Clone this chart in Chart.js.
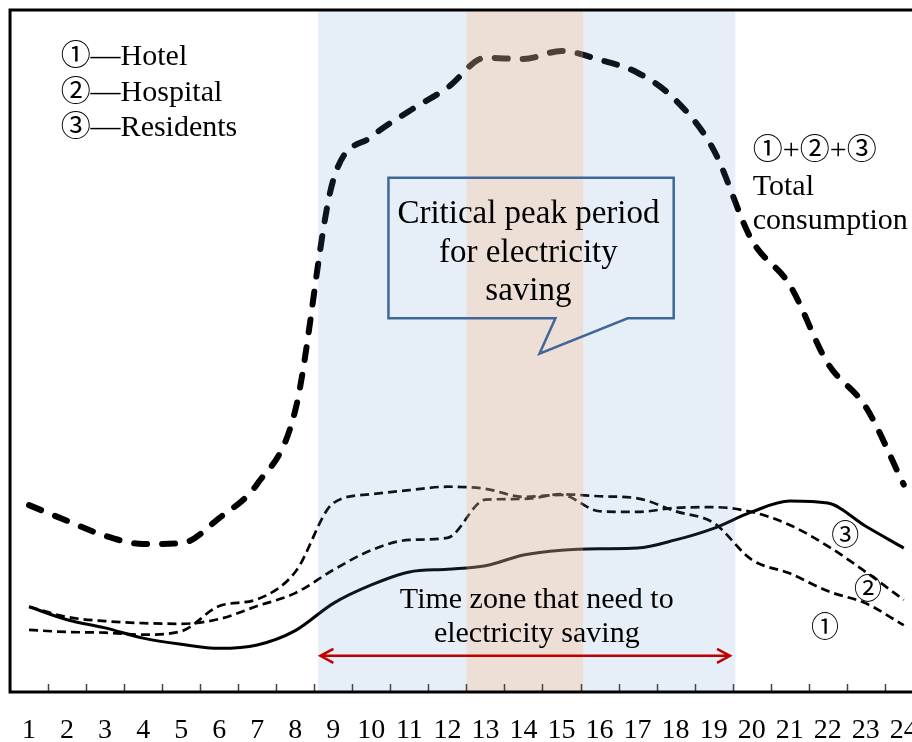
<!DOCTYPE html>
<html>
<head>
<meta charset="utf-8">
<script src="https://cdn.jsdelivr.net/npm/chart.js@4"></script>
<style>
  html, body { margin: 0; padding: 0; overflow: hidden; background: #fff; }
  canvas { display: block; }
</style>
</head>
<body>
<canvas id="loadChart" width="940" height="742"></canvas>
<script>
// hour of day, 1..24
const hours = ['1','2','3','4','5','6','7','8','9','10','11','12','13','14','15','16','17','18','19','20','21','22','23','24']

// relative load (0-100 of the plot height)
const hotel     = [12.5, 11.0, 10.4, 10.1, 10.0, 10.7, 12.6, 14.5, 17.9, 20.8, 22.3, 22.6, 28.2, 28.3, 29.0, 28.7, 28.4, 26.5, 24.8, 19.4, 17.4, 14.8, 13.0, 9.8]
const hospital  = [9.1, 8.8, 8.7, 8.4, 8.9, 12.6, 13.6, 17.6, 27.7, 29.0, 29.6, 30.1, 29.8, 28.6, 28.9, 26.5, 26.4, 27.0, 27.1, 26.4, 24.5, 21.4, 17.6, 13.5]
const residents = [12.5, 10.6, 9.4, 7.9, 7.0, 6.4, 6.9, 9.0, 13.0, 15.7, 17.6, 18.0, 18.5, 20.1, 20.8, 21.0, 21.1, 22.3, 24.0, 26.4, 28.0, 27.7, 24.3, 21.1]
const total     = [27.4, 25.1, 22.9, 21.7, 21.8, 25.5, 30.5, 41.3, 75.1, 81.4, 85.2, 88.6, 93.0, 92.8, 94.0, 92.7, 90.8, 86.8, 79.5, 66.3, 59.7, 48.2, 41.8, 30.4]

// shaded periods, in hours
const savingZone = [8.6, 19.57]
const peakZone = [12.5, 15.57]
const arrowSpan = [8.66, 19.43]

const serif = '"Liberation Serif", "Noto Sans CJK SC", serif'

// draws the bands, frame, ticks and the notes on top of the lines
const notesPlugin = {
    id: 'notes',
    afterDatasetsDraw(chart) {
        const ctx = chart.ctx
        const area = chart.chartArea
        const xs = chart.scales.x
        const ys = chart.scales.y
        const X = h => xs.getPixelForValue(h - 1)
        const Y = v => ys.getPixelForValue(v)

        ctx.save()
        // bands (drawn over the lines, like the original)
        ctx.fillStyle = 'rgba(83,138,207,0.145)'
        ctx.fillRect(X(savingZone[0]), area.top, X(peakZone[0]) - X(savingZone[0]), area.bottom - area.top)
        ctx.fillRect(X(peakZone[1]), area.top, X(savingZone[1]) - X(peakZone[1]), area.bottom - area.top)
        ctx.fillStyle = 'rgba(208,171,145,0.38)'
        ctx.fillRect(X(peakZone[0]), area.top, X(peakZone[1]) - X(peakZone[0]), area.bottom - area.top)

        // inward ticks between hours
        ctx.strokeStyle = '#444'
        ctx.lineWidth = 1.5
        ctx.beginPath()
        for (let i = 1; i < hours.length; i++) {
            const px = Math.round(X(i + 0.5)) + 0.5
            ctx.moveTo(px, area.bottom)
            ctx.lineTo(px, area.bottom - 8)
        }
        ctx.stroke()

        // frame: top, left, bottom
        ctx.strokeStyle = '#000'
        ctx.lineWidth = 3
        ctx.beginPath()
        ctx.moveTo(chart.width, area.top)
        ctx.lineTo(area.left, area.top)
        ctx.lineTo(area.left, area.bottom)
        ctx.lineTo(chart.width, area.bottom)
        ctx.stroke()

        // callout box
        ctx.strokeStyle = '#41679a'
        ctx.lineWidth = 2.5
        ctx.lineJoin = 'miter'
        const bl = X(10.45), br = X(17.95), bt = Y(75.4), bb = Y(54.8)
        ctx.beginPath()
        ctx.moveTo(bl, bt)
        ctx.lineTo(br, bt)
        ctx.lineTo(br, bb)
        ctx.lineTo(X(16.74), bb)
        ctx.lineTo(X(14.42), Y(49.6))
        ctx.lineTo(X(14.84), bb)
        ctx.lineTo(bl, bb)
        ctx.closePath()
        ctx.stroke()

        ctx.fillStyle = '#000'
        ctx.textBaseline = 'alphabetic'
        ctx.textAlign = 'center'
        ctx.font = '33px ' + serif
        ctx.fillText('Critical peak period', X(14.13), Y(68.8))
        ctx.fillText('for electricity', X(14.13), Y(63.1))
        ctx.fillText('saving', X(14.13), Y(57.5))

        ctx.font = '30px ' + serif
        ctx.fillText('Time zone that need to', X(14.35), Y(12.3))
        ctx.fillText('electricity saving', X(14.35), Y(7.3))

        // legend and total label
        ctx.textAlign = 'left'
        ctx.fillText('\u2460\u2014Hotel', X(1.83), Y(91.9))
        ctx.fillText('\u2461\u2014Hospital', X(1.83), Y(86.7))
        ctx.fillText('\u2462\u2014Residents', X(1.83), Y(81.5))
        ctx.fillText('\u2460+\u2461+\u2462', X(20.03), Y(78.2))
        ctx.fillText('Total', X(20.03), Y(72.9))
        ctx.fillText('consumption', X(20.03), Y(67.9))

        // curve markers
        ctx.textAlign = 'center'
        ctx.textBaseline = 'middle'
        ctx.font = '28px ' + serif
        ctx.fillText('\u2462', X(22.46), Y(22.7))
        ctx.fillText('\u2461', X(23.06), Y(14.7))
        ctx.fillText('\u2460', X(21.93), Y(9.1))

        // red double arrow
        const ay = Y(5.3), a0 = X(arrowSpan[0]), a1 = X(arrowSpan[1])
        ctx.strokeStyle = '#c00000'
        ctx.lineWidth = 2.5
        ctx.lineJoin = 'miter'
        ctx.beginPath()
        ctx.moveTo(a0, ay)
        ctx.lineTo(a1, ay)
        ctx.moveTo(a0 + 13, ay - 7)
        ctx.lineTo(a0, ay)
        ctx.lineTo(a0 + 13, ay + 7)
        ctx.moveTo(a1 - 13, ay - 7)
        ctx.lineTo(a1, ay)
        ctx.lineTo(a1 - 13, ay + 7)
        ctx.stroke()
        ctx.restore()
    }
}

const thinDash = [9, 5]

new Chart(document.getElementById('loadChart'), {
    type: 'line',
    data: {
        labels: hours,
        datasets: [
            { label: 'Hotel', data: hotel, borderColor: '#000', borderWidth: 2.7, borderDash: thinDash },
            { label: 'Hospital', data: hospital, borderColor: '#000', borderWidth: 2.7, borderDash: thinDash },
            { label: 'Residents', data: residents, borderColor: '#000', borderWidth: 3 },
            { label: 'Total consumption', data: total, borderColor: '#000', borderWidth: 6, borderDash: [13, 15], borderCapStyle: 'round' }
        ]
    },
    options: {
        responsive: false,
        animation: false,
        layout: { padding: { left: 10, right: 10, top: 10, bottom: 0 } },
        elements: {
            point: { radius: 0 },
            line: { cubicInterpolationMode: 'monotone', fill: false }
        },
        plugins: {
            legend: { display: false },
            tooltip: { enabled: false }
        },
        scales: {
            x: {
                offset: true,
                grid: { display: false, drawTicks: false },
                border: { display: false },
                ticks: {
                    color: '#000',
                    font: { family: serif, size: 28 },
                    padding: 22,
                    maxRotation: 0,
                    autoSkip: false
                },
                afterFit(scale) { scale.height = 50 }
            },
            y: {
                display: false,
                min: 0,
                max: 100
            }
        }
    },
    plugins: [notesPlugin]
})
</script>
</body>
</html>
